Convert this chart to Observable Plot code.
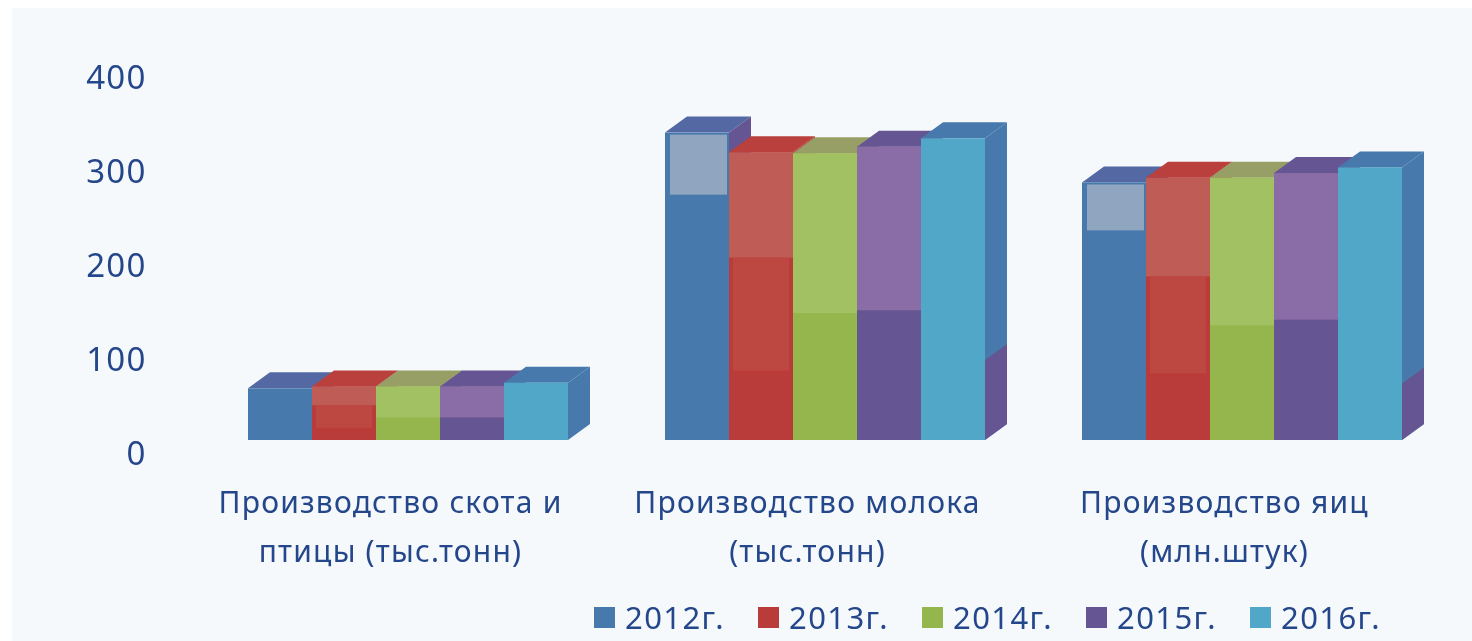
<!DOCTYPE html>
<html lang="ru">
<head>
<meta charset="utf-8">
<script src="https://cdn.jsdelivr.net/npm/d3@7"></script>
<script src="https://cdn.jsdelivr.net/npm/@observablehq/plot@0.6"></script>
<style>
  html, body { margin: 0; padding: 0; background: #fff; width: 1472px; height: 641px; overflow: hidden; }
  #panel { position: absolute; left: 12px; top: 8px; right: 0; bottom: 0; background: #f5f9fb; }
  #chart { position: absolute; left: 0; top: 0; filter: blur(0.7px); }
  #chart svg { display: block; background: transparent; }
  #chart [aria-label="fx-axis tick label"] { letter-spacing: 1.2px; }
  #chart [aria-label="y-axis tick label"] { letter-spacing: 1.2px; }
  #legend { position: absolute; left: 594px; top: 596px; display: flex; filter: blur(0.7px);
    font: 31px "Noto Sans", sans-serif; letter-spacing: 1.4px; color: #24468a; }
  #legend .item { width: 164px; display: flex; align-items: center; height: 42px; }
  #legend .sw { width: 21px; height: 21px; margin-right: 10px; flex: none; }
</style>
</head>
<body>
<div id="panel"></div>
<div id="chart"></div>
<div id="legend"></div>
<script>
const categories = ["Производство скота и\nптицы (тыс.тонн)", "Производство молока\n(тыс.тонн)", "Производство яиц\n(млн.штук)"];
const years = ["2012г.", "2013г.", "2014г.", "2015г.", "2016г."];

// bar heights per year, one value per category
const values2012 = [55, 327, 274];
const values2013 = [57, 306, 279];
const values2014 = [57, 305, 279];
const values2015 = [57, 312, 284];
const values2016 = [61, 321, 290];
const seriesValues = [values2012, values2013, values2014, values2015, values2016];

// level at which the lighter upper tint of each bar begins
const tint2012 = [55, 261, 223];
const tint2013 = [37, 194, 174];
const tint2014 = [24, 135, 122];
const tint2015 = [24, 138, 128];
const band2013 = [13, 74, 71];     // top of darkest red band
const side2016 = [0, 85, 60];      // purple part of the last side face

const frontColors = ["#4779ad", "#b93c3a", "#95b54d", "#655593", "#50a7c7"];
const lightColors = ["#8fa5c0", "#be5c55", "#a2c163", "#8a6ca6"];
const midRed = "#bd4842";
const topColors  = ["#5468a3", "#b9403c", "#979f67", "#655593", "#4779ad"];
const sideColors = ["#655593", "#b93c3a", "#788f48", "#655593", "#4779ad"];

const textColor = "#24468a";
const rows = years.flatMap((year, j) => categories.map((cat, i) => ({cat, year, j, value: seriesValues[j][i]})));
const tints = [tint2012, tint2013, tint2014, tint2015];
const tintRows = tints.flatMap((arr, j) => categories.map((cat, i) => ({cat, year: years[j], j, from: arr[i], to: seriesValues[j][i]})));

const depthX = 22, depthY = 16;
const SVGNS = "http://www.w3.org/2000/svg";

function addPolygon(parent, before, points, fill) {
  const p = document.createElementNS(SVGNS, "polygon");
  p.setAttribute("points", points.map(q => q.join(",")).join(" "));
  p.setAttribute("fill", fill);
  parent.insertBefore(p, before);
}

// Adds the extruded 3D faces around the bars Plot has placed with its scales.
function extrude(faceColor, withTop) {
  return function (index, scales, values, dimensions, context, next) {
    const g = next(index, scales, values, dimensions, context);
    [...g.querySelectorAll("rect")].forEach((r, k) => {
      const x = +r.getAttribute("x"), y = +r.getAttribute("y");
      const w = +r.getAttribute("width"), h = +r.getAttribute("height");
      const [topFill, sideFill] = faceColor(index[k]);
      if (withTop) addPolygon(r.parentNode, r,
        [[x, y], [x + depthX, y - depthY], [x + w + depthX, y - depthY], [x + w, y]], topFill);
      addPolygon(r.parentNode, r,
        [[x + w, y], [x + w + depthX, y - depthY], [x + w + depthX, y + h - depthY], [x + w, y + h]], sideFill);
    });
    return g;
  };
}

const plot = Plot.plot({
  width: 1472,
  height: 590,
  marginLeft: 248,
  marginRight: 70,
  marginTop: 64,
  marginBottom: 150,
  style: {background: "transparent", overflow: "visible"},
  fx: {domain: categories, paddingInner: 0.2326, paddingOuter: 0, round: false, label: null},
  x: {domain: years, padding: 0, round: false, axis: null},
  y: {domain: [0, 400], label: null},
  color: {domain: years, range: frontColors},
  marks: [
    Plot.axisY({
      ticks: [0, 100, 200, 300, 400], tickSize: 0, tickPadding: 102, dy: 14, label: null,
      fontSize: 33, fontFamily: "Noto Sans", fill: textColor
    }),
    Plot.axisFx({
      anchor: "bottom", tickSize: 0, tickPadding: 38, dx: -18, label: null,
      fontSize: 30, fontFamily: "Noto Sans", fill: textColor, lineHeight: 1.63, lineAnchor: "top"
    }),
    Plot.barY(rows, {fx: "cat", x: "year", y: "value", fill: "year",
      render: extrude(i => [topColors[rows[i].j], sideColors[rows[i].j]], true)}),
    Plot.barY(tintRows.filter(d => d.j === 0), {fx: "cat", x: "year", y1: "from", y2: "to",
      fill: d => lightColors[d.j], insetLeft: 5, insetRight: 2, insetTop: 2}),
    Plot.barY(tintRows.filter(d => d.j > 0), {fx: "cat", x: "year", y1: "from", y2: "to",
      fill: d => lightColors[d.j]}),
    Plot.barY(categories.map((cat, i) => ({cat, year: years[1], from: band2013[i], to: tint2013[i]})),
      {fx: "cat", x: "year", y1: "from", y2: "to", fill: midRed, insetLeft: 4, insetRight: 4}),
    Plot.barY(categories.map((cat, i) => ({cat, year: years[4], value: side2016[i]})),
      {fx: "cat", x: "year", y: "value", fill: "none",
       render: extrude(() => [null, frontColors[3]], false)})
  ]
});
document.getElementById("chart").appendChild(plot);

const legend = d3.select("#legend");
years.forEach((y, j) => {
  const item = legend.append("div").attr("class", "item");
  item.append("div").attr("class", "sw").style("background", frontColors[j]);
  item.append("span").text(y);
});
</script>
</body>
</html>
